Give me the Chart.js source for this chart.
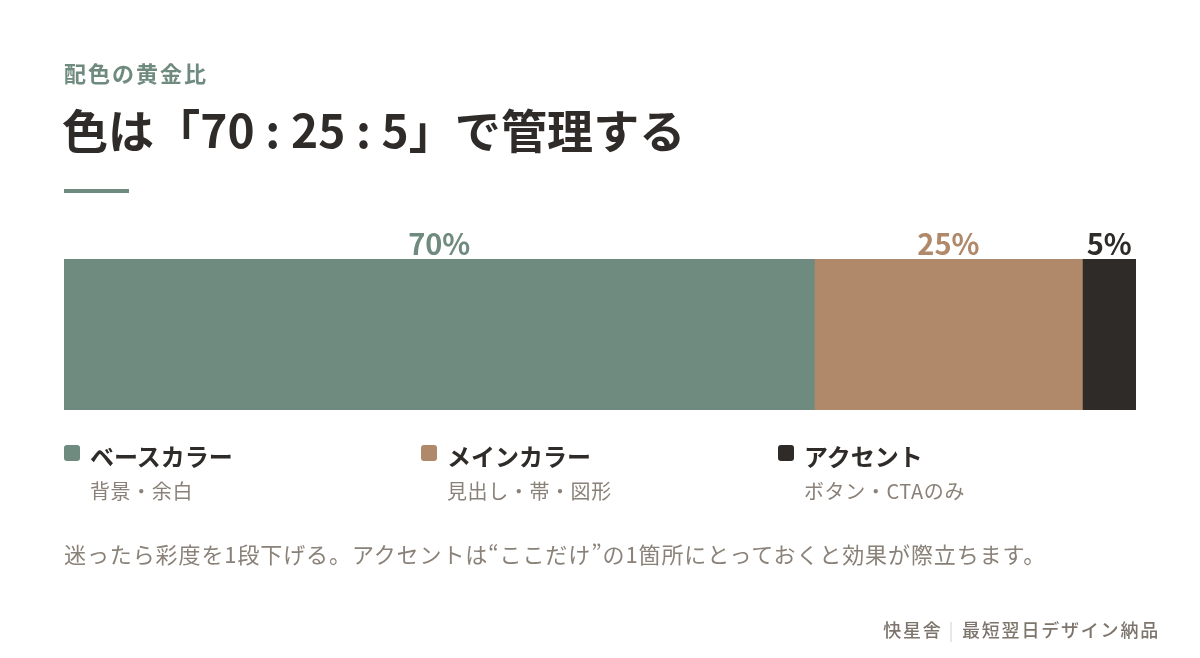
<!DOCTYPE html>
<html lang="ja">
<head>
<meta charset="utf-8">
<script src="https://cdn.jsdelivr.net/npm/chart.js@4.4.1/dist/chart.umd.min.js"></script>
<style>
  html, body { margin: 0; padding: 0; background: #ffffff; }
  body { width: 1200px; height: 658px; position: relative; overflow: hidden;
         font-family: "Noto Sans CJK JP", "Noto Sans", sans-serif; }
  #wrap { position: absolute; left: 0; top: 0; width: 1200px; height: 658px; }
  .t { position: absolute; white-space: nowrap; line-height: 1; }
  #kicker { left: 64px; top: 61px; font-size: 22px; font-weight: 700; color: #6f8a7e; letter-spacing: 2px; }
  #title { left: 62px; top: 105px; font-size: 46px; font-weight: 700; color: #2f2b28; letter-spacing: 0.1px; }
  #rule { position: absolute; left: 64px; top: 189px; width: 65px; height: 4px; background: #6f8a7e; }
  .leg { position: absolute; top: 444px; }
  .leg .sw { position: absolute; left: 0; top: 1px; width: 16px; height: 16px; border-radius: 3px; }
  .leg .nm { position: absolute; left: 26px; top: 0px; font-size: 24px; font-weight: 700; color: #2f2b28; white-space: nowrap; line-height: 1; }
  .leg .ds { position: absolute; left: 26px; top: 37px; font-size: 20px; color: #8a8178; white-space: nowrap; line-height: 1; letter-spacing: 0.6px; }
  #note { left: 64px; top: 542px; font-size: 22px; color: #8a8178; letter-spacing: 0.9px; }
  #foot { right: 40px; top: 620px; font-size: 18px; color: #7d756c; font-weight: 500; letter-spacing: 1.8px; }
  #foot .sep { color: #cfc9c2; margin: 0 7px 0 6px; font-weight: 300; }
</style>
</head>
<body>
<div id="wrap"><canvas id="c"></canvas></div>
<div class="t" id="kicker">配色の黄金比</div>
<div class="t" id="title">色は「70 : 25 : 5」で管理する</div>
<div id="rule"></div>
<div id="legend"></div>
<div class="t" id="note">迷ったら彩度を1段下げる。アクセントは“ここだけ”の1箇所にとっておくと効果が際立ちます。</div>
<div class="t" id="foot">快星舎<span class="sep">|</span>最短翌日デザイン納品</div>
<script>
// ---- data ----
const categories = ["配色"];
const seriesNames = ["ベースカラー", "メインカラー", "アクセント"];
const seriesValues = [70, 25, 5];
const seriesNotes = ["背景・余白", "見出し・帯・図形", "ボタン・CTAのみ"];
const seriesColors = ["#6f8a7e", "#b0886a", "#2f2b28"];

// legend (HTML, built from the arrays)
const legend = document.getElementById('legend');
seriesNames.forEach((name, i) => {
  const d = document.createElement('div');
  d.className = 'leg';
  d.style.left = (64 + i * 357) + 'px';
  d.innerHTML = '<div class="sw" style="background:' + seriesColors[i] + '"></div>' +
                '<div class="nm">' + name + '</div>' +
                '<div class="ds">' + seriesNotes[i] + '</div>';
  legend.appendChild(d);
});

const valueLabels = {
  id: 'valueLabels',
  afterDatasetsDraw(chart) {
    const ctx = chart.ctx;
    ctx.save();
    ctx.font = '700 29px "Noto Sans CJK JP", "Noto Sans", sans-serif';
    ctx.textAlign = 'center';
    ctx.textBaseline = 'alphabetic';
    chart.data.datasets.forEach((ds, i) => {
      const meta = chart.getDatasetMeta(i);
      meta.data.forEach((bar) => {
        const x = (bar.base + bar.x) / 2;
        const top = bar.y - bar.height / 2;
        ctx.fillStyle = seriesColors[i];
        ctx.fillText(seriesValues[i] + '%', x, top - 4);
      });
    });
    ctx.restore();
  }
};

new Chart(document.getElementById('c'), {
  type: 'bar',
  data: {
    labels: categories,
    datasets: seriesNames.map((n, i) => ({
      label: n,
      data: [seriesValues[i]],
      backgroundColor: seriesColors[i],
      borderWidth: 0,
      barPercentage: 1,
      categoryPercentage: 1
    }))
  },
  options: {
    indexAxis: 'y',
    responsive: true,
    maintainAspectRatio: false,
    animation: false,
    layout: { padding: { left: 64, right: 64, top: 259, bottom: 248 } },
    plugins: { legend: { display: false }, tooltip: { enabled: false } },
    scales: {
      x: { stacked: true, min: 0, max: 100, display: false },
      y: { stacked: true, display: false }
    }
  },
  plugins: [valueLabels]
});
</script>
</body>
</html>
